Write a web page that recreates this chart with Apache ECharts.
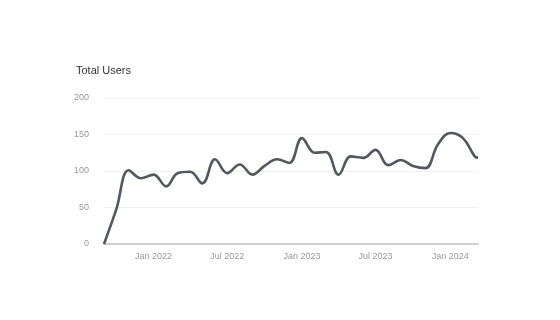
<!DOCTYPE html>
<html>
<head>
<meta charset="utf-8">
<script src="https://cdn.jsdelivr.net/npm/echarts@6/dist/echarts.min.js"></script>
<style>html,body{margin:0;padding:0;background:#fff;}#c{width:560px;height:320px;}</style>
</head>
<body>
<div id="c"></div>
<script>
const dates = ["2021-09-01","2021-10-01","2021-11-01","2021-12-01","2022-01-01","2022-02-01","2022-03-01","2022-04-01","2022-05-01","2022-06-01","2022-07-01","2022-08-01","2022-09-01","2022-10-01","2022-11-01","2022-12-01","2023-01-01","2023-02-01","2023-03-01","2023-04-01","2023-05-01","2023-06-01","2023-07-01","2023-08-01","2023-09-01","2023-10-01","2023-11-01","2023-12-01","2024-01-01","2024-02-01","2024-03-01","2024-03-09"];
const users = [0,47,101,90,95,79,97,99,83,116,97,109,95,107,116,111,145,125,126,95,120,118,129,108,115,107,104,136,152,145,120,118];
const xTickDates = ["2022-01-01","2022-07-01","2023-01-01","2023-07-01","2024-01-01"];
const yTicks = [0,50,100,150,200];
const months = ["Jan","Feb","Mar","Apr","May","Jun","Jul","Aug","Sep","Oct","Nov","Dec"];
const ts = d => Date.UTC(+d.slice(0,4), +d.slice(5,7)-1, +d.slice(8,10));

const chart = echarts.init(document.getElementById('c'), null, {renderer:'canvas'});
chart.setOption({
  animation: false,
  title: {
    text: 'Total Users', left: 76, top: 65, padding: 0,
    textStyle: {fontFamily: 'Liberation Sans', fontSize: 11, fontWeight: 'normal', color: '#333'}
  },
  grid: {left: 104, right: 82, top: 98, bottom: 76},
  xAxis: {
    type: 'value',
    min: ts(dates[0]),
    max: ts(dates[dates.length-1]),
    axisLine: {show: true, onZero: false, lineStyle: {color: '#d0d0d0', width: 2}},
    axisTick: {show: false},
    splitLine: {show: false},
    axisLabel: {
      customValues: xTickDates.map(ts),
      formatter: v => { const d = new Date(v); return months[d.getUTCMonth()] + ' ' + d.getUTCFullYear(); },
      color: '#999', fontSize: 9, fontFamily: 'Liberation Sans', margin: 8
    }
  },
  yAxis: {
    type: 'value', min: yTicks[0], max: yTicks[yTicks.length-1], interval: 50,
    axisLine: {show: false}, axisTick: {show: false},
    splitLine: {lineStyle: {color: '#f2f2f2', width: 1}},
    axisLabel: {color: '#999', fontSize: 9, fontFamily: 'Liberation Sans', margin: 15}
  },
  series: [{
    type: 'line',
    data: dates.map((d, i) => [ts(d), users[i]]),
    smooth: 0.4,
    showSymbol: false,
    lineStyle: {color: '#53585f', width: 2.6},
    itemStyle: {color: '#53585f'}
  }]
});
</script>
</body>
</html>
